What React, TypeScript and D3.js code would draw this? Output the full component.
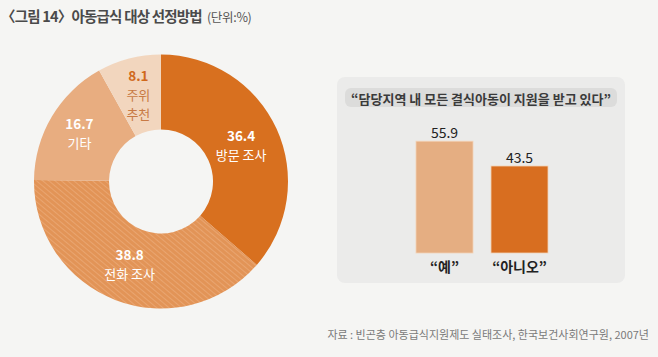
import React from "react";
import * as d3 from "d3";

const pieLabels = ["방문 조사", "전화 조사", "기타", "주위 추천"];
const pieValues = [36.4, 38.8, 16.7, 8.1];
const pieColors = ["#D8701F", "url(#hatch)", "#E8AD80", "#F2D6BE"];

const barCategories = ["“예”", "“아니오”"];
const barValues = [55.9, 43.5];
const barColors = ["#E5AE82", "#D86E20"];

const W = 658;
const H = 357;
const FONT = "'Noto Sans CJK KR', 'Noto Sans', sans-serif";

export default function App() {
  const cx = 161, cy = 181.5, rO = 127, rI = 52;
  const pie = d3.pie<number>().sort(null).value((d) => d);
  const arcs = pie(pieValues);
  const arc = d3.arc<d3.PieArcDatum<number>>().innerRadius(rI).outerRadius(rO);

  const x = d3.scaleBand<string>().domain(barCategories).range([416, 548]).paddingInner(0.24).paddingOuter(0);
  const y = d3.scaleLinear().domain([0, 100]).range([253, 53]);

  const labelR = [88, 88, 95, 90];
  const pieLabelLines = [["방문 조사"], ["전화 조사"], ["기타"], ["주위", "추천"]];
  const LH = 19.5;

  return (
    <svg width={W} height={H} style={{ position: "absolute", left: 0, top: 0, background: "#F5F5F3" }} fontFamily={FONT}>
      <defs>
        <pattern id="hatch" patternUnits="userSpaceOnUse" width="4" height="4" patternTransform="rotate(-50)">
          <rect width="4" height="4" fill="#E29457" />
          <line x1="0" y1="0" x2="0" y2="4" stroke="#F2BB8E" strokeWidth="0.9" />
        </pattern>
      </defs>
      <rect width={W} height={H} fill="#F5F5F3" />
      <text x={1} y={22} fontSize={14.5} fontWeight={700} fill="#4a4a4a" letterSpacing={-0.8}>
        〈그림 14〉아동급식 대상 선정방법
        <tspan fontSize={12.5} fontWeight={400} dx={5} fill="#555" letterSpacing={-0.3}>(단위:%)</tspan>
      </text>

      <g transform={`translate(${cx},${cy})`}>
        {arcs.map((a, i) => (
          <path key={i} d={arc(a) || ""} fill={pieColors[i]} />
        ))}
        {arcs.map((a, i) => {
          const mid = (a.startAngle + a.endAngle) / 2;
          const r = labelR[i];
          const lx = Math.sin(mid) * r;
          const ly = -Math.cos(mid) * r;
          const lines = pieLabelLines[i];
          const isSmall = i === 3;
          const total = lines.length + 1;
          const startY = ly - ((total - 1) * LH) / 2;
          return (
            <g key={"l" + i}>
              <text x={lx} y={startY} textAnchor="middle" dominantBaseline="central" fontSize={13.5} fontWeight={700} fill={isSmall ? "#D0691C" : "#ffffff"}>
                {a.data.toFixed(1)}
              </text>
              {lines.map((t, j) => (
                <text key={j} x={lx} y={startY + LH * (j + 1)} textAnchor="middle" dominantBaseline="central" fontSize={13} fill={isSmall ? "#C87A45" : "#ffffff"}>
                  {t}
                </text>
              ))}
            </g>
          );
        })}
      </g>

      <rect x={337} y={77} width={288} height={206} rx={8} fill="#EBEBEA" />
      <rect x={345} y={88} width={272} height={19} rx={6} fill="#DCDCDB" />
      <text x={481} y={98} textAnchor="middle" dominantBaseline="central" fontSize={13} fontWeight={700} fill="#3a3a3a">
        “담당지역 내 모든 결식아동이 지원을 받고 있다”
      </text>

      {barCategories.map((c, i) => (
        <g key={c}>
          <rect x={x(c)} y={y(barValues[i])} width={x.bandwidth()} height={y(0) - y(barValues[i])} fill={barColors[i]} stroke="#F3D2B6" strokeWidth={0.8} />
          <text x={(x(c) || 0) + x.bandwidth() / 2} y={y(barValues[i]) - 9} textAnchor="middle" dominantBaseline="central" fontSize={14} fill="#222">
            {barValues[i].toFixed(1)}
          </text>
          <text x={(x(c) || 0) + x.bandwidth() / 2} y={265.5} textAnchor="middle" dominantBaseline="central" fontSize={14} fontWeight={700} fill="#222">
            {c}
          </text>
        </g>
      ))}

      <text x={649} y={334} textAnchor="end" dominantBaseline="central" fontSize={11} fill="#7a7a7a">
        자료 : 빈곤층 아동급식지원제도 실태조사, 한국보건사회연구원, 2007년
      </text>
    </svg>
  );
}
